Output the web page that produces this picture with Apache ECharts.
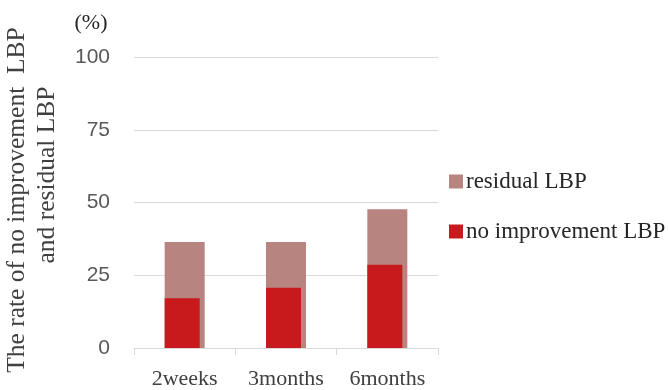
<!DOCTYPE html>
<html>
<head>
<meta charset="utf-8">
<script src="https://cdn.jsdelivr.net/npm/echarts@6/dist/echarts.min.js"></script>
<style>
  html, body { margin: 0; padding: 0; background: #fff; }
  #chart { width: 668px; height: 390px; }
</style>
</head>
<body>
<div id="chart"></div>
<script>
// Follow-up time points
const categories = ['2weeks', '3months', '6months'];
// Rate (%) of patients with residual low back pain
const residualLBP = [36.4, 36.4, 47.7];
// Rate (%) of patients with no improvement of low back pain
const noImprovementLBP = [17.1, 20.7, 28.6];
// Value axis ticks
const yTicks = [0, 25, 50, 75, 100];

const serif = '"Liberation Serif", "Times New Roman", serif';
const sans = '"Liberation Sans", Arial, sans-serif';

const chart = echarts.init(document.getElementById('chart'), null, { renderer: 'canvas' });

// Vertical axis title, one text element per line
function titleLine(text, x, y) {
  return {
    type: 'text',
    x: x,
    y: y,
    rotation: Math.PI / 2,
    style: {
      text: text,
      font: '25.5px ' + serif,
      fill: '#404040',
      align: 'center',
      verticalAlign: 'middle'
    }
  };
}

chart.setOption({
  animation: false,
  backgroundColor: '#ffffff',
  grid: { left: 134, right: 230, top: 57, bottom: 40 },
  legend: {
    data: ['residual LBP', 'no improvement LBP'],
    orient: 'vertical',
    left: 444,
    top: 165,
    itemWidth: 14,
    itemHeight: 14,
    itemGap: 27,
    icon: 'rect',
    textStyle: { fontFamily: serif, fontSize: 23, color: '#262626', padding: [0, 0, 0, -2] }
  },
  xAxis: {
    type: 'category',
    data: categories,
    axisLine: { lineStyle: { color: '#d9d9d9', width: 1 } },
    axisTick: { show: true, length: 7, lineStyle: { color: '#d9d9d9' } },
    axisLabel: {
      fontFamily: serif, fontSize: 22, color: '#404040', margin: 20,
      interval: 0, hideOverlap: false
    }
  },
  yAxis: {
    type: 'value',
    min: yTicks[0],
    max: yTicks[yTicks.length - 1],
    interval: 25,
    axisLine: { show: false },
    axisTick: { show: false },
    splitLine: { lineStyle: { color: '#d9d9d9', width: 1 } },
    axisLabel: { fontFamily: sans, fontSize: 21, color: '#595959', margin: 24 }
  },
  series: [
    {
      name: 'no improvement LBP',
      type: 'bar',
      data: noImprovementLBP,
      barWidth: 35,
      barGap: '-100%',
      z: 3,
      itemStyle: { color: '#c8191c' }
    },
    {
      name: 'residual LBP',
      type: 'bar',
      data: residualLBP,
      barWidth: 40,
      barGap: '-100%',
      z: 2,
      itemStyle: { color: '#b88480' }
    }
  ],
  graphic: [
    titleLine('The rate of no improvement  LBP', 17, 200),
    titleLine('and residual LBP', 47, 175),
    {
      type: 'text',
      x: 91,
      y: 23,
      style: {
        text: '(%)',
        font: '22px ' + serif,
        fill: '#262626',
        align: 'center',
        verticalAlign: 'middle'
      }
    }
  ]
});
</script>
</body>
</html>
